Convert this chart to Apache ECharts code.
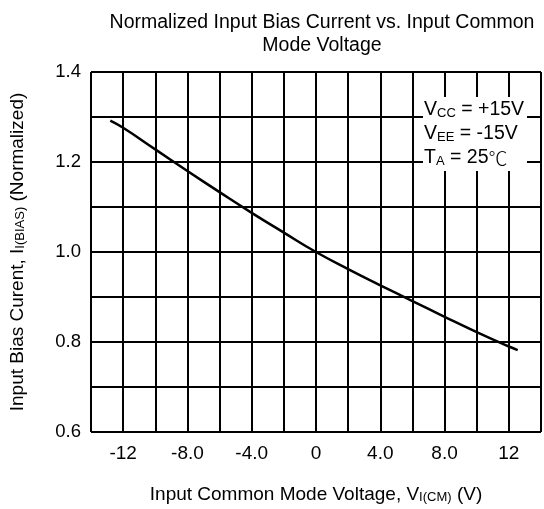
<!DOCTYPE html>
<html>
<head>
<meta charset="utf-8">
<script src="https://cdn.jsdelivr.net/npm/echarts@6/dist/echarts.min.js"></script>
<style>
  html, body { margin: 0; padding: 0; background: #fff; }
</style>
</head>
<body>
<div id="main" style="width: 544px; height: 509px"></div>
<script>
// 数据：输入共模电压 (V) 与归一化偏置电流
const vcm = [-12.8, -12, -10, -8, -6, -4, -2, 0, 2, 4, 6, 8, 10, 12, 12.55]
const biasNorm = [1.292, 1.276, 1.228, 1.180, 1.133, 1.087, 1.043, 1.0, 0.962, 0.926, 0.891, 0.856, 0.822, 0.790, 0.782]

const xTickLabels = { '-12': '-12', '-8': '-8.0', '-4': '-4.0', '0': '0', '4': '4.0', '8': '8.0', '12': '12' }
const yTickLabels = { '0.6': '0.6', '0.8': '0.8', '1': '1.0', '1.2': '1.2', '1.4': '1.4' }

const font = 'Liberation Sans, Arial, sans-serif'

const main = document.getElementById('main')
const myChart = echarts.init(main)

const option = {
  backgroundColor: '#fff',
  animation: false,
  title: {
    text: 'Normalized Input Bias Current vs. Input Common\nMode Voltage',
    left: 317,
    top: 6,
    textAlign: 'center',
    textStyle: { fontFamily: font, fontSize: 19.5, fontWeight: 'normal', color: '#000', lineHeight: 23 }
  },
  // 右侧网格超出画布，所以用固定宽度
  grid: { left: 87, width: 459, top: 72, bottom: 76 },
  xAxis: {
    type: 'value',
    min: -14,
    max: 14,
    interval: 2,
    axisLine: { show: false },
    axisTick: { show: false },
    splitLine: { show: true, lineStyle: { color: '#000', width: 2 } },
    axisLabel: {
      margin: 12,
      fontFamily: font,
      fontSize: 19,
      color: '#000',
      showMinLabel: true,
      showMaxLabel: true,
      formatter: function(v) {
        const k = String(Math.round(v))
        return xTickLabels[k] !== undefined ? xTickLabels[k] : ''
      }
    },
    name: '{t|Input Common Mode Voltage, V}{s|I(CM)}{t| (V)}',
    nameLocation: 'middle',
    nameGap: 50,
    nameTextStyle: {
      rich: {
        t: { fontFamily: font, fontSize: 19, color: '#000', verticalAlign: 'bottom', lineHeight: 22 },
        s: { fontFamily: font, fontSize: 13, color: '#000', verticalAlign: 'bottom', lineHeight: 17 }
      }
    }
  },
  yAxis: {
    type: 'value',
    min: 0.6,
    max: 1.4,
    interval: 0.1,
    axisLine: { show: true, lineStyle: { color: '#000', width: 2 } },
    axisTick: { show: false },
    splitLine: { show: true, lineStyle: { color: '#000', width: 2 } },
    axisLabel: {
      margin: 10,
      fontFamily: font,
      fontSize: 18.5,
      color: '#000',
      formatter: function(v) {
        const k = String(Math.round(v * 10) / 10)
        return yTickLabels[k] !== undefined ? yTickLabels[k] : ''
      }
    },
    name: '{t|Input Bias Curent, I}{s|I(BIAS)}{t| (Normalized)}',
    nameLocation: 'middle',
    nameGap: 64,
    nameTextStyle: {
      rich: {
        t: { fontFamily: font, fontSize: 19, color: '#000', verticalAlign: 'bottom', lineHeight: 22 },
        s: { fontFamily: font, fontSize: 13, color: '#000', verticalAlign: 'bottom', lineHeight: 17 }
      }
    }
  },
  series: [
    {
      name: 'Bias',
      type: 'line',
      smooth: true,
      showSymbol: false,
      lineStyle: { color: '#000', width: 2.5 },
      data: vcm.map((x, i) => [x, biasNorm[i]]),
      z: 3
    }
  ],
  graphic: [
    {
      type: 'rect',
      shape: { x: 423, y: 97, width: 104, height: 74 },
      style: { fill: '#fff' },
      z: 10
    },
    {
      type: 'text',
      left: 424,
      top: 100,
      z: 11,
      style: {
        text: '{t|V}{s|CC}{t| = +15V}\n{t|V}{s|EE}{t| = -15V}\n{t|T}{s|A}{t| = 25}{c|℃}',
        rich: {
          t: { fontFamily: font, fontSize: 19.5, fill: '#000', verticalAlign: 'bottom', lineHeight: 24 },
          s: { fontFamily: font, fontSize: 13, fill: '#000', verticalAlign: 'bottom', lineHeight: 20 },
          c: { fontFamily: 'Noto Sans CJK SC', fontSize: 19, fontWeight: 300, fill: '#000', verticalAlign: 'bottom', lineHeight: 24 }
        }
      }
    }
  ]
}

myChart.setOption(option)
</script>
</body>
</html>
